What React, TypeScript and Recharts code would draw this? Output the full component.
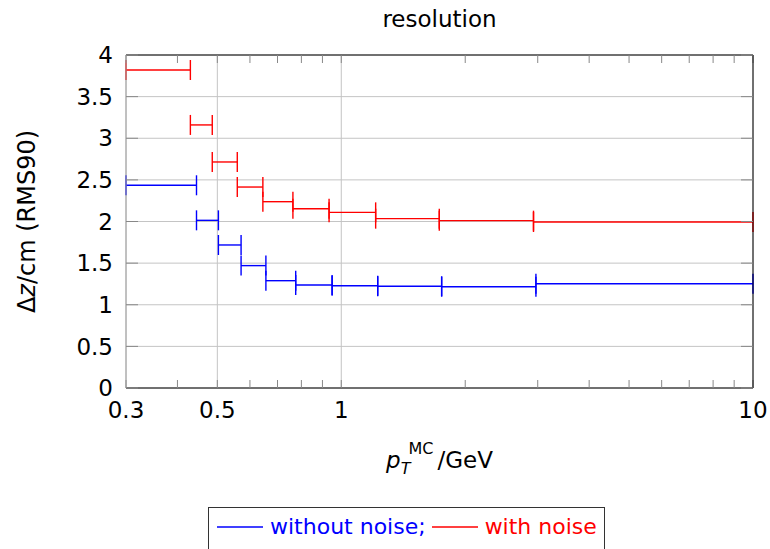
import React from 'react'
import {
  ScatterChart,
  Scatter,
  XAxis,
  YAxis,
  CartesianGrid,
  ErrorBar,
  Legend,
} from 'recharts'

// bin edges in p_T (GeV) and the RMS90 of Δz per bin
const blueEdges = [0.3, 0.445, 0.503, 0.571, 0.656, 0.775, 0.95, 1.226, 1.753, 2.97, 10]
const blueValues = [2.435, 2.014, 1.718, 1.47, 1.289, 1.237, 1.229, 1.222, 1.217, 1.253]
const redEdges = [0.3, 0.43, 0.486, 0.559, 0.645, 0.763, 0.934, 1.212, 1.73, 2.93, 10]
const redValues = [3.82, 3.16, 2.715, 2.414, 2.238, 2.154, 2.11, 2.034, 2.01, 1.994]

const majorX = [0.3, 0.5, 1, 10]
const minorX = [0.4, 0.6, 0.7, 0.8, 0.9, 2, 3, 4, 5, 6, 7, 8, 9]
const yTicks = [0, 0.5, 1, 1.5, 2, 2.5, 3, 3.5, 4]

const seriesNames = ['without noise;', 'with noise']
const seriesColors = ['#0000ff', '#ff0000']

const FONT = '"DejaVu Sans", sans-serif'

function toRows(edges: number[], values: number[]) {
  return values.map((v, i) => {
    const lo = edges[i]
    const hi = edges[i + 1]
    const x = Math.sqrt(lo * hi)
    return { x, y: v, err: [x - lo, hi - x] }
  })
}

const blueRows = toRows(blueEdges, blueValues)
const redRows = toRows(redEdges, redValues)

const allX = [...majorX, ...minorX].sort((a, b) => a - b)
const xLabel = (v: number) => (majorX.includes(v) ? String(v) : '')

function LegendBox() {
  return (
    <div
      style={{
        width: 397,
        height: 50,
        border: '1px solid #333',
        background: '#fff',
        display: 'flex',
        alignItems: 'flex-start',
        paddingTop: 6,
        boxSizing: 'border-box',
        fontFamily: FONT,
        fontSize: 22,
        paddingLeft: 8,
      }}
    >
      {seriesNames.map((name, i) => (
        <span key={name} style={{ display: 'flex', alignItems: 'center', color: seriesColors[i], marginRight: 6 }}>
          <svg width={48} height={10} style={{ marginRight: 5 }}>
            <line x1={0} y1={5} x2={46} y2={5} stroke={seriesColors[i]} strokeWidth={1.5} />
          </svg>
          {name}
        </span>
      ))}
    </div>
  )
}

const noDot = () => <g />

export default function App() {
  return (
    <div style={{ position: 'absolute', left: 0, top: 0, fontFamily: FONT }}>
      <ScatterChart width={770} height={549} margin={{ top: 54, right: 16, bottom: 0, left: 0 }}>
        <CartesianGrid stroke="#c4c4c4" strokeWidth={1} vertical={false} />
        <CartesianGrid stroke="#c4c4c4" strokeWidth={1} horizontal={false} xAxisId="grid" />
        <XAxis
          xAxisId="grid"
          dataKey="x"
          hide
          type="number"
          scale="log"
          domain={[0.3, 10]}
          allowDataOverflow
          ticks={majorX}
          interval={0}
        />
        <XAxis
          dataKey="x"
          type="number"
          scale="log"
          domain={[0.3, 10]}
          allowDataOverflow
          ticks={allX}
          interval={0}
          tickFormatter={xLabel}
          tickSize={-8}
          tickMargin={22}
          height={161}
          axisLine={{ stroke: '#000', strokeWidth: 1 }}
          tickLine={{ stroke: '#888' }}
          tick={{ fill: '#000', fontSize: 23 }}
          label={{
            content: ({ viewBox }: any) => (
              <text
                x={viewBox.x + viewBox.width / 2}
                y={viewBox.y + 80}
                textAnchor="middle"
                fontSize={23}
                fill="#000"
              >
                <tspan fontStyle="italic">p</tspan>
                <tspan fontStyle="italic" fontSize={16} dy={6}>T</tspan>
                <tspan fontSize={16} dy={-20} dx={-2}>MC</tspan>
                <tspan dy={14} dx={4}>/GeV</tspan>
              </text>
            ),
          }}
        />
        <XAxis
          xAxisId="top"
          dataKey="x"
          orientation="top"
          type="number"
          scale="log"
          domain={[0.3, 10]}
          allowDataOverflow
          ticks={allX}
          interval={0}
          tickFormatter={() => ''}
          tickSize={-8}
          height={1}
          axisLine={{ stroke: '#000', strokeWidth: 1 }}
          tickLine={{ stroke: '#888' }}
          label={{
            content: ({ viewBox }: any) => (
              <text
                x={viewBox.x + viewBox.width / 2}
                y={27}
                textAnchor="middle"
                fontSize={23}
                fill="#000"
              >
                resolution
              </text>
            ),
          }}
        />
        <YAxis
          dataKey="y"
          type="number"
          domain={[0, 4]}
          allowDataOverflow
          ticks={yTicks}
          interval={0}
          width={126}
          tickSize={-12}
          tickMargin={25}
          axisLine={{ stroke: '#a0a0a0', strokeWidth: 1 }}
          tickLine={{ stroke: '#888' }}
          tick={{ fill: '#000', fontSize: 23 }}
          label={{
            content: ({ viewBox }: any) => {
              const cy = viewBox.y + viewBox.height / 2
              return (
                <text
                  x={35}
                  y={cy}
                  transform={`rotate(-90, 35, ${cy})`}
                  textAnchor="middle"
                  fontSize={24}
                  fill="#000"
                >
                  Δ<tspan fontStyle="italic">z</tspan>/cm (RMS90)
                </text>
              )
            },
          }}
        />
        <YAxis
          yAxisId="right"
          dataKey="y"
          orientation="right"
          type="number"
          domain={[0, 4]}
          allowDataOverflow
          ticks={yTicks}
          interval={0}
          width={1}
          tickSize={-12}
          tickFormatter={() => ''}
          axisLine={{ stroke: '#000', strokeWidth: 1 }}
          tickLine={{ stroke: '#888' }}
        />
        <Legend
          layout="horizontal"
          verticalAlign="middle"
          align="center"
          wrapperStyle={{ top: 507, left: 208, width: 'auto', height: 'auto' }}
          content={() => <LegendBox />}
        />
        <Scatter name={seriesNames[0]} data={blueRows} fill={seriesColors[0]} shape={noDot} isAnimationActive={false}>
          <ErrorBar dataKey="err" direction="x" width={10} stroke={seriesColors[0]} strokeWidth={1.4} isAnimationActive={false} />
        </Scatter>
        <Scatter name={seriesNames[1]} data={redRows} fill={seriesColors[1]} shape={noDot} isAnimationActive={false}>
          <ErrorBar dataKey="err" direction="x" width={10} stroke={seriesColors[1]} strokeWidth={1.4} isAnimationActive={false} />
        </Scatter>
      </ScatterChart>
    </div>
  )
}
